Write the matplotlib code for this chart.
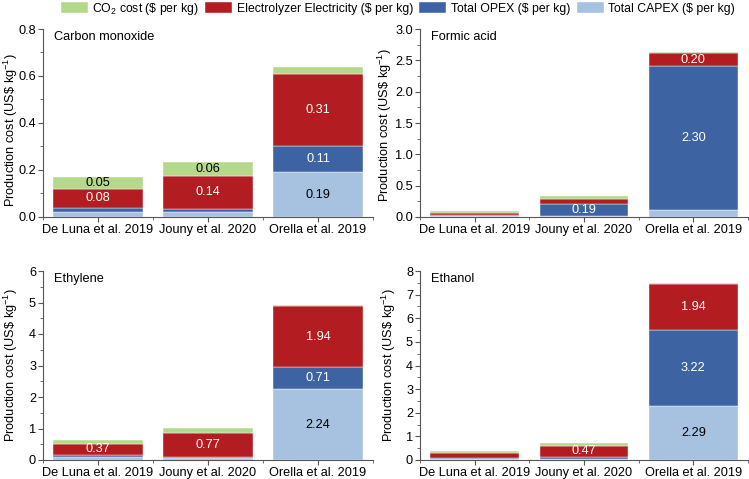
import numpy as np
import matplotlib
matplotlib.use('Agg')
import matplotlib.pyplot as plt
from matplotlib.ticker import MultipleLocator, FixedLocator

plt.rcParams['font.family'] = ['Liberation Sans', 'DejaVu Sans']
plt.rcParams['mathtext.fontset'] = 'custom'
plt.rcParams['mathtext.rm'] = 'Liberation Sans'
plt.rcParams['mathtext.it'] = 'Liberation Sans:italic'
fs = 9.2
plt.rcParams['font.size'] = fs

sources = ['De Luna et al. 2019', 'Jouny et al. 2020', 'Orella et al. 2019']
products = ['Carbon monoxide', 'Formic acid', 'Ethylene', 'Ethanol']

# one row per product, one value per source (US$ per kg)
capex = [[0.023, 0.022, 0.19], [0.01, 0.01, 0.11], [0.10, 0.07, 2.24], [0.04, 0.04, 2.29]]
opex = [[0.017, 0.013, 0.11], [0.02, 0.19, 2.30], [0.05, 0.03, 0.71], [0.03, 0.10, 3.22]]
elec = [[0.08, 0.14, 0.31], [0.035, 0.09, 0.20], [0.37, 0.77, 1.94], [0.23, 0.47, 1.94]]
co2 = [[0.05, 0.06, 0.03], [0.035, 0.05, 0.03], [0.12, 0.13, 0.04], [0.07, 0.09, 0.04]]

ymax = [0.8, 3.0, 6, 8]
ymajor = [0.2, 0.5, 1, 1]
yfmt = ['%.1f', '%.1f', '%d', '%d']

c_capex = '#a7c1e0'
c_opex = '#3e63a3'
c_elec = '#b31d21'
c_co2 = '#b5d98a'

fig = plt.figure(figsize=(7.49, 4.79), dpi=100)
boxes = [
    [43/749, 1 - 217/479, 330/749, 188/479],
    [420/749, 1 - 217/479, 328/749, 188/479],
    [43/749, 1 - 460/479, 330/749, 189/479],
    [420/749, 1 - 460/479, 328/749, 189/479],
]
label_xy = [(-0.07, 0.46), (-0.078, 0.49), (-0.07, 0.5), (-0.066, 0.5)]

x = np.arange(len(sources))
w = 0.81

for k in range(4):
    ax = fig.add_axes(boxes[k])
    bottom = np.zeros(3)
    parts = [(capex[k], c_capex, 'black', 'Total CAPEX ($ per kg)'),
             (opex[k], c_opex, 'white', 'Total OPEX ($ per kg)'),
             (elec[k], c_elec, 'white', 'Electrolyzer Electricity ($ per kg)'),
             (co2[k], c_co2, 'black', r'CO$_2$ cost (\$ per kg)')]
    for vals, col, tcol, lab in parts:
        vals = np.array(vals)
        ax.bar(x, vals, w, bottom=bottom, color=col, edgecolor='white',
               linewidth=0.3, label=lab)
        for i, v in enumerate(vals):
            if v >= 0.05 * ymax[k]:
                ax.text(x[i], bottom[i] + v / 2, '%.2f' % v, ha='center',
                        va='center', color=tcol, fontsize=fs)
        bottom = bottom + vals

    ax.set_xlim(-0.5, 2.5)
    ax.set_ylim(0, ymax[k])
    ax.set_xticks(x)
    ax.set_xticklabels(sources)
    ax.xaxis.set_minor_locator(FixedLocator([-0.5, 0.5, 1.5, 2.5]))
    ax.yaxis.set_major_locator(MultipleLocator(ymajor[k]))
    ax.yaxis.set_minor_locator(MultipleLocator(ymajor[k] / 2))
    ax.yaxis.set_major_formatter(plt.FormatStrFormatter(yfmt[k]))
    ax.spines['top'].set_visible(False)
    ax.spines['right'].set_visible(False)
    for s in ['left', 'bottom']:
        ax.spines[s].set_color('#555555')
        ax.spines[s].set_linewidth(0.8)
    ax.tick_params(which='major', direction='out', length=3.5, width=0.8,
                   color='#555555', labelsize=fs, pad=1.5)
    ax.tick_params(which='minor', direction='out', length=2, width=0.6,
                   color='#555555')
    ax.set_ylabel(r'Production cost (US\$ kg$^{-1}$)')
    ax.yaxis.set_label_coords(*label_xy[k])
    ax.text(0.034, 0.96, products[k], transform=ax.transAxes, ha='left',
            va='center', fontsize=fs)

    if k == 0:
        h, l = ax.get_legend_handles_labels()

fig.legend(h[::-1], l[::-1], loc='upper left', bbox_to_anchor=(60/749, 1.0),
           ncol=4, frameon=False, handlelength=2.2, handleheight=1.1,
           handletextpad=0.4, columnspacing=0.5, borderpad=0.05,
           borderaxespad=0, fontsize=8.8)

fig.savefig('out.png', dpi=100)
